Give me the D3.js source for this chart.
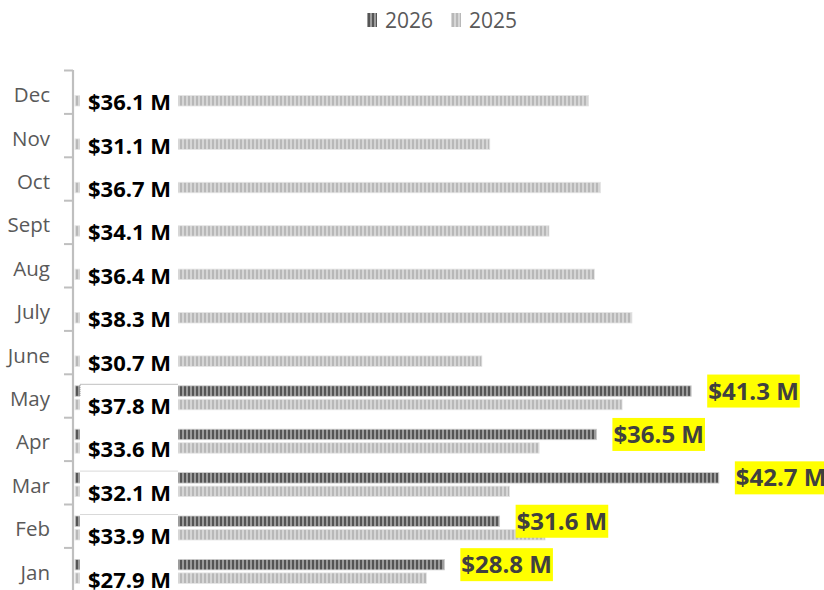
<!DOCTYPE html>
<html>
<head>
<meta charset="utf-8">
<script src="https://cdn.jsdelivr.net/npm/d3@7"></script>
<style>
  html, body { margin: 0; padding: 0; background: #fff; }
  svg { display: block; }
</style>
</head>
<body>
<svg id="chart" width="824" height="590"></svg>
<script>
const months = ["Jan","Feb","Mar","Apr","May","June","July","Aug","Sept","Oct","Nov","Dec"];
const seriesNames = ["2026","2025"];
const values2025 = [27.9,33.9,32.1,33.6,37.8,30.7,38.3,36.4,34.1,36.7,31.1,36.1];
const values2026 = [28.8,31.6,42.7,36.5,41.3,null,null,null,null,null,null,null];
const boxedLabels = ["Mar","Feb"];
const dottedLabels = ["May"];

const svg = d3.select("#chart");
const defs = svg.append("defs");

function stripe(id, dark, light) {
  const p = defs.append("pattern").attr("id", id)
    .attr("patternUnits", "userSpaceOnUse").attr("width", 4).attr("height", 4);
  p.append("rect").attr("width", 4).attr("height", 4).attr("fill", light);
  p.append("rect").attr("width", 2).attr("height", 4).attr("fill", dark);
}
stripe("p2026", "#555555", "#9c9c9c");
stripe("p2025", "#b8b8b8", "#d6d6d6");
const fills = {"2026": "url(#p2026)", "2025": "url(#p2025)"};
const edges = {"2026": "#cfcfcf", "2025": "#e4e4e4"};

const xMin = 10.1;
const x = d3.scaleLinear().domain([xMin, 45]).range([75, 75 + 34.9 * 19.75]);
const y = d3.scaleBand().domain(months.slice().reverse()).range([72, 592.8]);
const sub = d3.scaleBand().domain(seriesNames).range([10, 34]).paddingInner(0.222);

const rows = months.map((m, i) => ({m, "2025": values2025[i], "2026": values2026[i]}));
const fmt = v => "$" + v.toFixed(1) + " M";
const font = "'Open Sans', 'DejaVu Sans', sans-serif";

// bars
const g = svg.append("g");
seriesNames.forEach(s => {
  g.selectAll(".b" + s).data(rows.filter(r => r[s] != null)).enter().append("rect")
    .attr("x", x(xMin))
    .attr("y", d => y(d.m) + sub(s))
    .attr("width", d => x(d[s]) - x(xMin))
    .attr("height", sub.bandwidth())
    .attr("fill", fills[s])
    .attr("stroke", edges[s]).attr("stroke-width", 0.8);
});

// 2025 labels with white boxes
const lab = svg.append("g");
rows.forEach(r => {
  const top = y(r.m);
  lab.append("rect").attr("x", 80).attr("y", top + 8.5).attr("width", 98).attr("height", 28)
    .attr("fill", "#fff");
  if (boxedLabels.includes(r.m)) {
    lab.append("line").attr("x1", 80).attr("x2", 178).attr("y1", top + 8.5).attr("y2", top + 8.5)
      .attr("stroke", "#d9d9d9").attr("stroke-width", 1);
  }
  if (dottedLabels.includes(r.m)) {
    lab.append("path").attr("d", `M80,${top + 20} V${top + 8.5} H178`)
      .attr("fill", "none").attr("stroke", "#808080").attr("stroke-width", 1).attr("stroke-dasharray", "1,1");
  }
  lab.append("text").attr("x", 88)
    .attr("y", top + sub("2025") + sub.bandwidth() / 2 + 1.5)
    .attr("dy", "0.36em")
    .attr("font-family", font).attr("font-weight", 700).attr("font-size", 22)
    .attr("fill", "#000").text(fmt(r["2025"]));
});

// 2026 labels with yellow boxes
rows.filter(r => r["2026"] != null).forEach(r => {
  const cy = y(r.m) + sub("2026") + sub.bandwidth() / 2;
  const gg = svg.append("g");
  const bg = gg.append("rect").attr("fill", "#ffff00");
  const t = gg.append("text").attr("x", x(r["2026"]) + 17).attr("y", cy).attr("dy", "0.36em")
    .attr("font-family", font).attr("font-weight", 700).attr("font-size", 24)
    .attr("fill", "#404040").text(fmt(r["2026"]));
  const w = t.node().getComputedTextLength();
  bg.attr("x", x(r["2026"]) + 16).attr("y", cy - 16.5).attr("width", w + 2).attr("height", 33);
});

// y axis
const axis = svg.append("g");
axis.append("line").attr("x1", 73).attr("x2", 73).attr("y1", 70).attr("y2", 590)
  .attr("stroke", "#bfbfbf").attr("stroke-width", 2.2);
const bounds = y.domain().map(m => y(m) - 1.5);
axis.selectAll(".tk").data(bounds).enter().append("line")
  .attr("x1", 64).attr("x2", 73).attr("y1", d => d).attr("y2", d => d)
  .attr("stroke", "#bfbfbf").attr("stroke-width", 2);
axis.selectAll(".cl").data(months).enter().append("text")
  .attr("x", 50).attr("y", d => y(d) + 23).attr("dy", "0.35em")
  .attr("text-anchor", "end")
  .attr("font-family", font).attr("font-size", 20.5).attr("fill", "#595959")
  .text(d => d);

// legend
const legend = svg.append("g");
const legendX = {"2026": 367, "2025": 451};
seriesNames.forEach(s => {
  legend.append("rect").attr("x", legendX[s]).attr("y", 13).attr("width", 10).attr("height", 14)
    .attr("fill", fills[s]);
  legend.append("text").attr("x", legendX[s] + 18).attr("y", 21).attr("dy", "0.35em")
    .attr("font-family", font).attr("font-size", 21).attr("fill", "#595959").text(s);
});
</script>
</body>
</html>
